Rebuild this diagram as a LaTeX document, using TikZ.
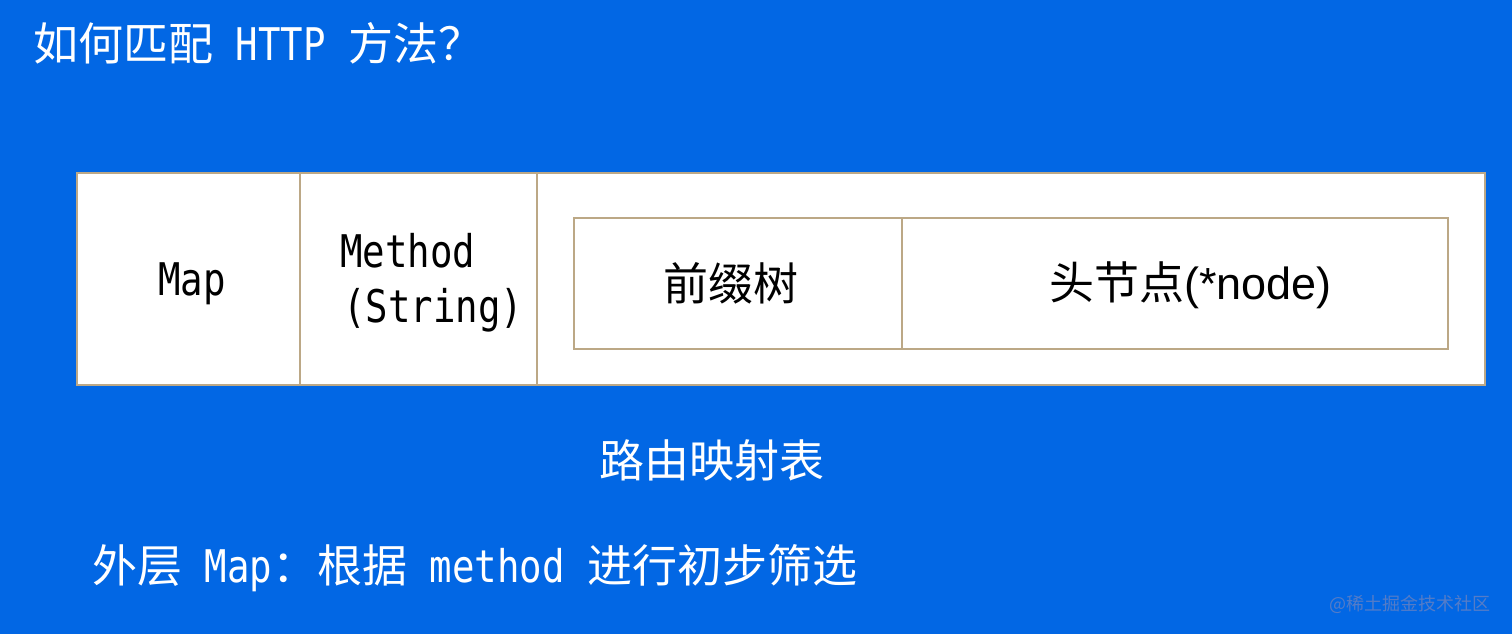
\documentclass[tikz,border=0pt]{standalone}
\usepackage{fontspec}
\usetikzlibrary{positioning}
\setmainfont{Noto Sans CJK SC}
\newfontfamily\lat[FakeStretch=0.83]{DejaVu Sans Mono}
\newfontfamily\arial{Liberation Sans}
\newcommand\mono[1]{{\lat #1}}

\definecolor{bgblue}{RGB}{2,103,228}
\definecolor{rim}{RGB}{188,168,134}
\definecolor{markblue}{RGB}{84,124,200}

\begin{document}
\begin{tikzpicture}[x=1pt,y=-1pt,
  cell/.style={draw=rim, fill=white, line width=1.3pt, inner sep=0pt, outer sep=0pt},
  big/.style={font=\fontsize{45}{54}\selectfont, inner sep=0pt},
  onblue/.style={big, text=white}]

\fill[bgblue] (0,0) rectangle (1512,634);
\useasboundingbox (0,0) rectangle (1512,634);

\node[onblue, anchor=base west] (title) at (33,60) {如何匹配\mono{\ HTTP\ }方法？};

\node[cell, minimum width=223pt, minimum height=212pt, anchor=north west] (mapcell) at (77,173) {};
\node[cell, minimum width=237pt, minimum height=212pt, right=0pt of mapcell] (methodcell) {};
\node[cell, minimum width=948pt, minimum height=212pt, right=0pt of methodcell] (treecell) {};

\node[cell, minimum width=328pt, minimum height=131pt, anchor=north west] (prefixcell) at (574,218) {};
\node[cell, minimum width=546pt, minimum height=131pt, right=0pt of prefixcell] (headcell) {};

\node[big, anchor=base] (maplabel) at (192,295) {\mono{Map}};
\node[big, anchor=base west] (methodlabel) at (340,267) {\mono{Method}};
\node[big, anchor=base west] (typelabel) at (343,322) {\mono{(String)}};
\node[big, anchor=base] (prefixlabel) at (731,300) {前缀树};
\node[big, anchor=base west] (headlabel) at (1049,299) {头节点{\arial(*node)}};

\node[onblue, anchor=base] (tablename) at (712,477) {路由映射表};
\node[onblue, anchor=base west] (note) at (92,582) {外层\mono{\ Map}：根据\mono{\ method\ }进行初步筛选};

\node[font=\fontsize{18}{22}\selectfont, text=markblue, inner sep=0pt, anchor=base east] (mark) at (1491,610) {@稀土掘金技术社区};

\end{tikzpicture}
\end{document}
